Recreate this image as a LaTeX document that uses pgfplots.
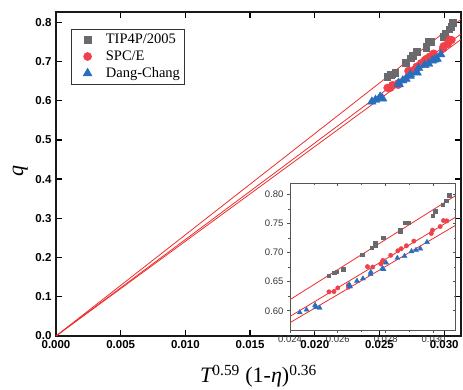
\documentclass[border=0pt]{standalone}
\usepackage{fontspec}
\setmainfont{Liberation Serif}
\newfontfamily\arialfont{Liberation Sans}
\usepackage{pgfplots}
\usepackage{pgfplotstable}
\pgfplotsset{compat=1.18}

\definecolor{cgray}{RGB}{105,105,110}
\definecolor{cred}{RGB}{240,65,75}
\definecolor{cblue}{RGB}{40,110,190}
\definecolor{cline}{RGB}{238,45,45}
\definecolor{inaxis}{RGB}{85,85,85}
\definecolor{intext}{RGB}{55,55,55}

\pgfplotstableread{
x y
0.02561 0.6604
0.02586 0.6655
0.02596 0.6672
0.02622 0.6718
0.02701 0.6963
0.02741 0.7083
0.02756 0.7162
0.02756 0.7128
0.02789 0.7254
0.02862 0.7385
0.02862 0.7356
0.02879 0.7510
0.02897 0.7510
0.02996 0.7630
0.03007 0.7715
0.03039 0.7823
0.03053 0.7892
0.03065 0.7989
}\tip

\pgfplotstableread{
x y
0.02563 0.6325
0.02584 0.6330
0.02600 0.6393
0.02644 0.6439
0.02644 0.6405
0.02724 0.6758
0.02746 0.6752
0.02780 0.6803
0.02786 0.6843
0.02789 0.6866
0.02821 0.6952
0.02851 0.7031
0.02865 0.7066
0.02887 0.7117
0.02918 0.7197
0.02991 0.7328
0.02996 0.7385
0.03028 0.7447
0.03042 0.7550
0.03056 0.7544
}\spce

\pgfplotstableread{
x y
0.02441 0.5972
0.02469 0.6017
0.02505 0.6097
0.02508 0.6063
0.02524 0.6051
0.02648 0.6450
0.02651 0.6416
0.02680 0.6513
0.02705 0.6553
0.02737 0.6627
0.02738 0.6667
0.02786 0.6724
0.02791 0.6712
0.02802 0.6826
0.02849 0.6906
0.02879 0.6940
0.02908 0.7020
0.02927 0.7043
0.02945 0.7066
0.02973 0.7179
}\dc

\begin{document}
\begin{tikzpicture}[x=1pt,y=1pt]
\useasboundingbox (-56,-54) rectangle (407,336);
\begin{axis}[
  at={(0pt,0pt)}, anchor=south west,
  width=405pt, height=324pt, scale only axis,
  xmin=0, xmax=0.0313, ymin=0, ymax=0.826,
  xtick={0,0.005,0.01,0.015,0.02,0.025,0.03},
  xticklabels={0.000,0.005,0.010,0.015,0.020,0.025,0.030},
  ytick={0,0.1,0.2,0.3,0.4,0.5,0.6,0.7,0.8},
  yticklabels={0.0,0.1,0.2,0.3,0.4,0.5,0.6,0.7,0.8},
  scaled ticks=false,
  /pgf/number format/assume math mode=true,
  tick align=inside, major tick length=6pt,
  tick style={line width=1.3pt, black},
  axis line style={line width=1.6pt, black!90},
  ticklabel style={font=\arialfont\bfseries\fontsize{11.5}{12}\selectfont},
  xticklabel style={yshift=-1pt},
  yticklabel style={xshift=-1pt},
  xlabel={{\itshape T}\textsuperscript{0.59} (1-{\itshape η})\textsuperscript{0.36}},
  xlabel style={font=\fontsize{22}{24}\selectfont, at={(axis description cs:0.5,0)}, anchor=base, yshift=-47pt},
  ylabel={\itshape q},
  ylabel style={font=\fontsize{22}{24}\selectfont, at={(axis description cs:-0.088,0.51)}, anchor=center},
  legend style={at={(axis description cs:0.037,0.9475)}, anchor=north west,
    font=\fontsize{14.5}{16}\selectfont, draw=black!80, line width=0.6pt,
    row sep=1.5pt, inner xsep=2pt, inner ysep=3pt},
  legend image code/.code={\path (0pt,0pt) (30pt,0pt); \draw[#1] plot coordinates {(14pt,0pt)};},
  legend cell align=left,
]
\addplot[only marks, mark=square*, mark size=3.3pt, color=cgray] table {\tip};
\addlegendentry{TIP4P/2005}
\addplot[only marks, mark=*, mark size=4pt, color=cred] table {\spce};
\addlegendentry{SPC/E}
\addplot[only marks, mark=triangle*, mark size=5pt, color=cblue] table {\dc};
\addlegendentry{Dang-Chang}
\addplot[cline, line width=0.8pt, no marks, forget plot] coordinates {(0,0) (0.032,0.8256)};
\addplot[cline, line width=0.8pt, no marks, forget plot] coordinates {(0,0) (0.032,0.7872)};
\addplot[cline, line width=0.8pt, no marks, forget plot] coordinates {(0,0) (0.032,0.7728)};
\end{axis}

\begin{axis}[
  at={(234pt,6pt)}, anchor=south west,
  width=165.7pt, height=146.7pt, scale only axis,
  xmin=0.0240, xmax=0.03093, ymin=0.567, ymax=0.819,
  axis background/.style={fill=white},
  axis x line*=bottom, axis y line*=left,
  axis line style={-, line width=0.8pt, inaxis},
  tick align=outside, major tick length=3pt, minor tick length=2pt,
  tick style={line width=0.7pt, inaxis},
  xtick={0.024,0.026,0.028,0.030},
  xticklabels={0.024,0.026,0.028,0.030},
  ytick={0.60,0.65,0.70,0.75,0.80},
  yticklabels={0.60,0.65,0.70,0.75,0.80},
  scaled ticks=false,
  minor tick num=1,
  /pgf/number format/assume math mode=true,
  ticklabel style={font=\arialfont\fontsize{9.5}{10}\selectfont, text=intext},
  xticklabel style={yshift=1pt},
]
\addplot[only marks, mark=square*, mark size=1.8pt, color=cgray] table {\tip};
\addplot[only marks, mark=*, mark size=2.2pt, color=cred] table {\spce};
\addplot[only marks, mark=triangle*, mark size=2.9pt, color=cblue] table {\dc};
\addplot[cline, line width=0.8pt, no marks] coordinates {(0,0) (0.032,0.8256)};
\addplot[cline, line width=0.8pt, no marks] coordinates {(0,0) (0.032,0.7872)};
\addplot[cline, line width=0.8pt, no marks] coordinates {(0,0) (0.032,0.7728)};
\end{axis}

\begin{axis}[
  at={(234pt,6pt)}, anchor=south west,
  width=165.7pt, height=146.7pt, scale only axis,
  xmin=0.0240, xmax=0.03093, ymin=0.567, ymax=0.819,
  axis x line*=top, axis y line*=right,
  axis line style={-, line width=0.8pt, inaxis},
  tick align=inside, major tick length=3pt, minor tick length=2pt,
  tick style={line width=0.7pt, inaxis},
  xtick={0.024,0.026,0.028,0.030},
  ytick={0.60,0.65,0.70,0.75,0.80},
  scaled ticks=false,
  minor tick num=1,
  xticklabels={}, yticklabels={},
]
\end{axis}
\end{tikzpicture}
\end{document}
